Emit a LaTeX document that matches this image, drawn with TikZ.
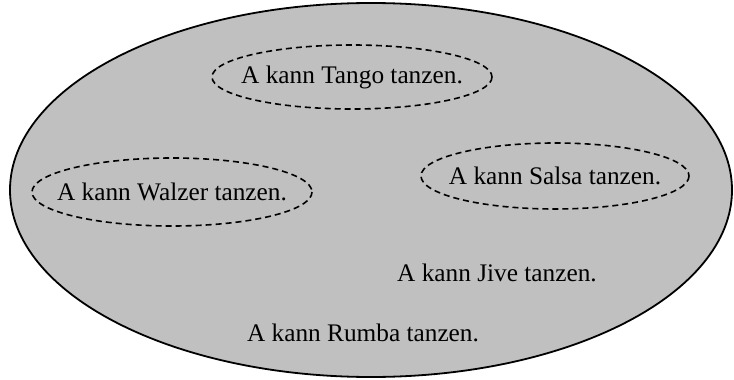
\documentclass[tikz,border=0pt]{standalone}
\usepackage{fontspec}
\setmainfont{Liberation Serif}
\usetikzlibrary{shapes.geometric}
\begin{document}
\begin{tikzpicture}[x=1pt,y=-1pt,
  lbl/.style={font=\fontsize{25.3}{30}\selectfont, inner sep=0pt},
  subset/.style={draw, dashed, dash pattern=on 6pt off 4pt, line width=1.6pt},
]
\useasboundingbox (0,0) rectangle (734,380);
\draw[line width=1.8pt, fill={rgb,255:red,192;green,192;blue,192}] (371,190) ellipse [x radius=361, y radius=187];
\draw[subset] (352,77) ellipse [x radius=140, y radius=32];
\draw[subset] (555,176) ellipse [x radius=134, y radius=33];
\draw[subset] (172,192) ellipse [x radius=140, y radius=34];
\node[lbl] (tango) at (352,77) {A kann Tango tanzen.};
\node[lbl] (salsa) at (555,176) {A kann Salsa tanzen.};
\node[lbl] (walzer) at (172,192) {A kann Walzer tanzen.};
\node[lbl] (jive) at (497,273) {A kann Jive tanzen.};
\node[lbl] (rumba) at (363,333) {A kann Rumba tanzen.};
\end{tikzpicture}
\end{document}
